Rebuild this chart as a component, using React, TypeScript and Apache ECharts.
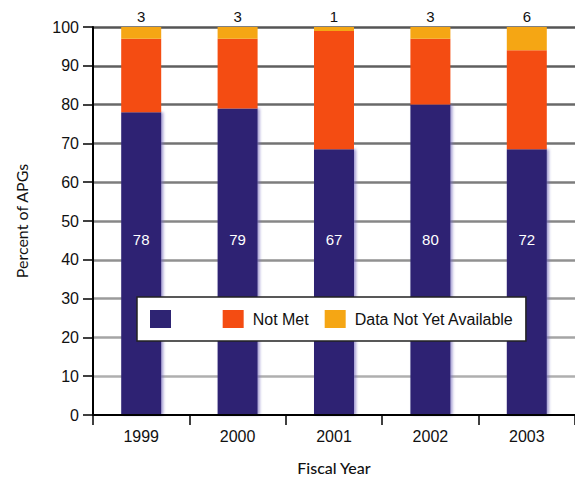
import React, { useEffect, useRef } from "react";
import * as echarts from "echarts";

const years = ["1999", "2000", "2001", "2002", "2003"];
const metValues = [78, 79, 68.5, 80, 68.5];
const metLabels = [78, 79, 67, 80, 72];
const notMetValues = [19, 18, 30.5, 17, 25.5];
const notYetValues = [3, 3, 1, 3, 6];
const gridTicks = [10, 20, 30, 40, 50, 60, 70, 80, 90, 100];

const NAVY = "#2e2473";
const RED = "#f44c12";
const ORANGE = "#f5a614";

function gridGray(v: number) {
  const t = (100 - v) / 90;
  const c = Math.round(0x55 + t * 0x5a);
  const h = c.toString(16).padStart(2, "0");
  return "#" + h + h + h;
}

export default function App() {
  const ref = useRef<HTMLDivElement>(null);
  useEffect(() => {
    if (!ref.current) return;
    const chart = echarts.init(ref.current, null, { renderer: "svg" });
    const font = "Liberation Sans";
    chart.setOption({
      animation: false,
      textStyle: { fontFamily: font },
      grid: { left: 93, right: 0, top: 27, bottom: 63, outerBoundsMode: "none", containLabel: false },
      legend: {
        left: 137,
        top: 297,
        z: 10,
        orient: "horizontal",
        icon: "rect",
        backgroundColor: "#fff",
        borderColor: "#222",
        borderWidth: 1.5,
        padding: [13, 12, 13, 13],
        itemWidth: 21,
        itemHeight: 18,
        itemGap: 16,
        itemStyle: { borderWidth: 0 },
        textStyle: { fontSize: 16, color: "#111", fontFamily: font, padding: [0, 0, 0, 4] },
        data: [
          { name: "Met", textStyle: { color: "#fff", width: 38, fontFamily: font, fontSize: 16 } },
          { name: "Not Met" },
          { name: "Data Not Yet Available" },
        ],
      },
      xAxis: {
        type: "category",
        data: years,
        name: "Fiscal Year",
        nameLocation: "middle",
        nameGap: 44,
        nameTextStyle: { fontFamily: "Lato", fontSize: 16, color: "#111", fontWeight: 500 },
        axisLine: { lineStyle: { color: "#000", width: 2 } },
        axisTick: { show: true, length: 10, lineStyle: { color: "#000", width: 1.5 } },
        axisLabel: { fontSize: 16, color: "#111", margin: 13, fontFamily: font },
        splitLine: { show: false },
        z: 6,
      },
      yAxis: {
        type: "value",
        min: 0,
        max: 100,
        interval: 10,
        name: "Percent of APGs",
        nameLocation: "middle",
        nameGap: 64,
        nameTextStyle: { fontFamily: "Lato", fontSize: 16, color: "#111" },
        axisLine: { show: true, lineStyle: { color: "#000", width: 2 } },
        axisTick: { show: true, length: 10, lineStyle: { color: "#000", width: 1.5 } },
        axisLabel: { fontSize: 16, color: "#111", margin: 14, fontFamily: font },
        splitLine: { show: false },
        z: 6,
      },
      series: [
        {
          name: "gridlines",
          type: "line",
          data: [],
          silent: true,
          z: 1,
          markLine: {
            silent: true,
            z: 1,
            symbol: "none",
            label: { show: false },
            emphasis: { disabled: true },
            data: gridTicks.map((v) => ({
              yAxis: v,
              lineStyle: { color: gridGray(v), width: 2.5, type: "solid" },
            })),
          },
        },
        {
          name: "Met",
          type: "bar",
          stack: "total",
          barWidth: 40,
          data: metValues,
          z: 3,
          itemStyle: {
            color: NAVY,
            shadowColor: "rgba(120,110,190,0.7)",
            shadowBlur: 3,
            shadowOffsetX: 2,
          },
          label: {
            show: true,
            position: "insideBottom",
            distance: 168,
            color: "#fff",
            fontSize: 15,
            fontFamily: font,
            formatter: (p: any) => String(metLabels[p.dataIndex]),
          },
        },
        {
          name: "Not Met",
          type: "bar",
          stack: "total",
          barWidth: 40,
          data: notMetValues,
          z: 3,
          itemStyle: { color: RED },
        },
        {
          name: "Data Not Yet Available",
          type: "bar",
          stack: "total",
          barWidth: 40,
          data: notYetValues,
          z: 3,
          itemStyle: { color: ORANGE },
          label: {
            show: true,
            position: "top",
            distance: 3,
            color: "#111",
            fontSize: 15,
            fontFamily: font,
          },
        },
      ],
    });
    return () => chart.dispose();
  }, []);
  return (
    <div
      ref={ref}
      style={{ position: "fixed", left: 0, top: 0, width: 575, height: 478, background: "#fff" }}
    />
  );
}
